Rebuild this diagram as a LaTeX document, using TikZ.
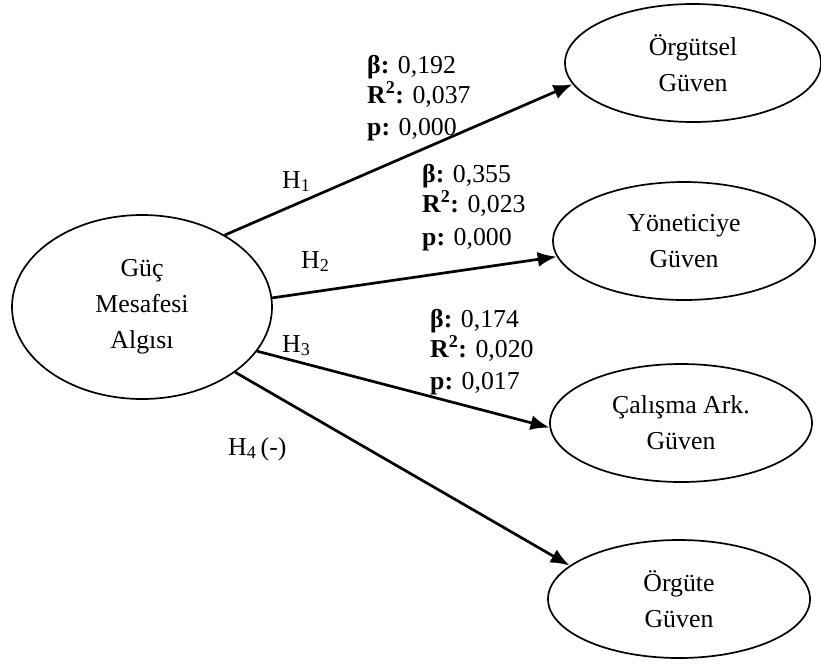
\documentclass[tikz,border=0pt]{standalone}
\usepackage{fontspec}
\setmainfont{Liberation Serif}
\usetikzlibrary{shapes.geometric,arrows.meta}
\begin{document}
\begin{tikzpicture}[x=1pt,y=-1pt,
  construct/.style={draw,line width=1.7pt,ellipse,inner sep=0pt,align=center,
    font={\fontsize{25.8}{36}\selectfont}},
  path/.style={line width=2.7pt,-{Latex[length=19pt,width=15pt]}},
  hyp/.style={anchor=base west,inner sep=0pt,font={\fontsize{25.8}{31}\selectfont}},
  stat/.style={anchor=base west,inner sep=0pt,font={\fontsize{25.8}{31}\selectfont}}]
\useasboundingbox[fill=white] (0,0) rectangle (821,667);

% constructs
\node[construct,minimum width=260pt,minimum height=184pt] (gmA) at (142,307) {Güç\\Mesafesi\\Algısı};
\node[construct,minimum width=256pt,minimum height=118pt] (og) at (693,63) {Örgütsel\\Güven};
\node[construct,minimum width=262pt,minimum height=118pt] (yg) at (684,241) {Yöneticiye\\Güven};
\node[construct,minimum width=262pt,minimum height=118pt] (cg) at (681,423) {Çalışma Ark.\\Güven};
\node[construct,minimum width=262pt,minimum height=118pt] (oeg) at (679,599) {Örgüte\\Güven};

% hypothesised paths
\draw[path] (gmA.41) -- (og.190);
\draw[path] (gmA.4) -- (yg.187);
\draw[path] (gmA.-21) -- (cg.182);
\draw[path] (gmA.-35) -- (oeg.163);

% hypothesis labels
\node[hyp] (h1) at (282,188) {H\textsubscript{1}};
\node[hyp] (h2) at (301,268) {H\textsubscript{2}};
\node[hyp] (h3) at (282,352) {H\textsubscript{3}};
\node[hyp] (h4) at (228,455) {H\textsubscript{4}\,(-)};

% path statistics
\node[stat] (b1) at (367,73)  {\textbf{β:} 0,192};
\node[stat] (r1) at (367,103) {\textbf{R\textsuperscript{2}:} 0,037};
\node[stat] (p1) at (367,135) {\textbf{p:} 0,000};

\node[stat] (b2) at (422,182) {\textbf{β:} 0,355};
\node[stat] (r2) at (422,212) {\textbf{R\textsuperscript{2}:} 0,023};
\node[stat] (p2) at (422,245) {\textbf{p:} 0,000};

\node[stat] (b3) at (430,327) {\textbf{β:} 0,174};
\node[stat] (r3) at (430,357) {\textbf{R\textsuperscript{2}:} 0,020};
\node[stat] (p3) at (430,389) {\textbf{p:} 0,017};
\end{tikzpicture}
\end{document}
